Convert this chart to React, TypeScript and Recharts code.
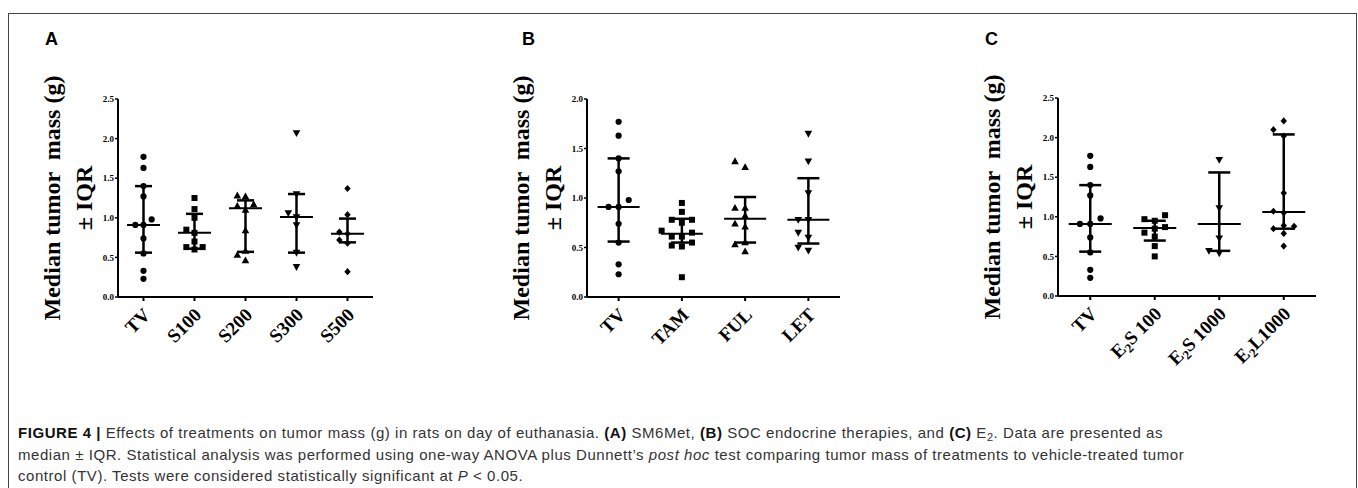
import React from 'react';
import { ScatterChart, Scatter, XAxis, YAxis, ErrorBar } from 'recharts';

// tumor mass (g) per animal
const tvMass = [1.77, 1.63, 1.4, 1.27, 0.98, 0.91, 0.91, 0.74, 0.55, 0.33, 0.23];

// panel A - SM6Met
const catsA = ['TV', 'S100', 'S200', 'S300', 'S500'];
const s100 = [1.25, 1.11, 1.0, 0.85, 0.81, 0.7, 0.63, 0.6, 0.63];
const s200 = [1.28, 1.27, 1.17, 1.15, 1.1, 0.84, 0.58, 0.53, 0.46];
const s300 = [2.07, 1.3, 1.06, 1.01, 0.91, 0.56, 0.38];
const s500 = [1.37, 1.04, 0.82, 0.8, 0.72, 0.68, 0.32];
const medA = [0.91, 0.81, 1.12, 1.01, 0.8];
const q1A = [0.56, 0.61, 0.57, 0.56, 0.69];
const q3A = [1.4, 1.05, 1.22, 1.3, 0.99];

// panel B - SOC endocrine therapies
const catsB = ['TV', 'TAM', 'FUL', 'LET'];
const tam = [0.95, 0.86, 0.78, 0.78, 0.75, 0.67, 0.65, 0.61, 0.61, 0.55, 0.52, 0.51, 0.2];
const ful = [1.37, 1.31, 0.9, 0.9, 0.82, 0.74, 0.71, 0.55, 0.53, 0.46];
const letr = [1.65, 1.37, 1.05, 0.78, 0.78, 0.65, 0.6, 0.5, 0.47];
const medB = [0.91, 0.64, 0.79, 0.78];
const q1B = [0.56, 0.55, 0.55, 0.54];
const q3B = [1.4, 0.79, 1.01, 1.2];

// panel C - E2
const catsC = ['TV', 'E2S 100', 'E2S 1000', 'E2L1000'];
const e2s100 = [1.02, 0.97, 0.95, 0.87, 0.85, 0.8, 0.75, 0.63, 0.5];
const e2s1000 = [1.72, 1.11, 0.73, 0.57, 0.54];
const e2l1000 = [2.21, 2.1, 2.02, 1.3, 1.07, 1.05, 0.89, 0.88, 0.85, 0.79, 0.63];
const medC = [0.91, 0.86, 0.91, 1.06];
const q1C = [0.56, 0.7, 0.57, 0.85];
const q3C = [1.4, 0.95, 1.56, 2.04];

const ticks25 = [0, 0.5, 1, 1.5, 2, 2.5];
const ticks20 = [0, 0.5, 1, 1.5, 2];

// simple beeswarm: spread near-equal values sideways like the prism plot
const swarm = (vals: number[], idx: number, thr: number, step: number) => {
  const placed: { y: number; lane: number }[] = [];
  const lanes = [0, -1, 1, -2, 2, -3, 3];
  return [...vals]
    .sort((a, b) => a - b)
    .map((v) => {
      const lane =
        lanes.find((l) => !placed.some((p) => p.lane === l && Math.abs(p.y - v) < thr)) ?? 0;
      placed.push({ y: v, lane });
      return { x: idx + lane * step, y: v };
    });
};

const markers: { [k: string]: (p: any) => React.ReactElement } = {
  circle: (p) => <circle cx={p.cx} cy={p.cy} r={3.1} fill="#000" />,
  square: (p) => <rect x={p.cx - 3} y={p.cy - 3} width={6} height={6} fill="#000" />,
  up: (p) => (
    <polygon
      points={`${p.cx},${p.cy - 4} ${p.cx - 3.8},${p.cy + 2.8} ${p.cx + 3.8},${p.cy + 2.8}`}
      fill="#000"
    />
  ),
  down: (p) => (
    <polygon
      points={`${p.cx},${p.cy + 4} ${p.cx - 3.8},${p.cy - 2.8} ${p.cx + 3.8},${p.cy - 2.8}`}
      fill="#000"
    />
  ),
  diamond: (p) => (
    <polygon
      points={`${p.cx},${p.cy - 3.6} ${p.cx + 3.2},${p.cy} ${p.cx},${p.cy + 3.6} ${p.cx - 3.2},${p.cy}`}
      fill="#000"
    />
  ),
};

const CatTick = (props: any) => {
  const { x, y, payload, cats } = props;
  const name: string = cats[payload.value] ?? '';
  const tx = x + 8;
  const ty = y + 13;
  const sub = name.startsWith('E2');
  return (
    <text
      x={tx}
      y={ty}
      transform={`rotate(-45, ${tx}, ${ty})`}
      textAnchor="end"
      fontFamily="Liberation Serif"
      fontWeight="bold"
      fontSize={19}
      fill="#000"
    >
      {sub ? (
        <>
          <tspan>E</tspan>
          <tspan dy={4} fontSize={13}>2</tspan>
          <tspan dy={-4}>{name.slice(2)}</tspan>
        </>
      ) : (
        name
      )}
    </text>
  );
};

const AxisTitle = (props: any) => {
  const { x, y, height } = props.viewBox;
  const cy = y + height / 2;
  const x1 = x + 34;
  const x2 = x + 66;
  return (
    <g fontFamily="Liberation Serif" fontWeight="bold" fontSize={24} fill="#000">
      <text
        x={x1}
        y={cy}
        transform={`rotate(-90, ${x1}, ${cy})`}
        textAnchor="middle"
        dominantBaseline="central"
        style={{ whiteSpace: 'pre' }}
      >
        Median tumor  mass (g)
      </text>
      <text
        x={x2}
        y={cy}
        transform={`rotate(-90, ${x2}, ${cy})`}
        textAnchor="middle"
        dominantBaseline="central"
      >
        ± IQR
      </text>
    </g>
  );
};

const Panel = (props: {
  left: number;
  top: number;
  width: number;
  cats: string[];
  groups: number[][];
  shapes: string[];
  med: number[];
  q1: number[];
  q3: number[];
  yMax: number;
  yTicks: number[];
  thr: number;
  medHalf: number;
  capHalf: number;
}) => {
  const { cats, med, q1, q3 } = props;
  const pts = props.groups.map((g, i) => swarm(g, i, props.thr, 0.16));
  const summary = cats.map((_, i) => ({ x: i, y: med[i], iqr: [med[i] - q1[i], q3[i] - med[i]] }));
  const medShape = (p: any) => (
    <line
      x1={p.cx - props.medHalf}
      x2={p.cx + props.medHalf}
      y1={p.cy}
      y2={p.cy}
      stroke="#000"
      strokeWidth={2}
    />
  );
  return (
    <div style={{ position: 'absolute', left: props.left, top: props.top }}>
      <ScatterChart
        width={props.width}
        height={300}
        margin={{ top: 14, right: 25, bottom: 0, left: 0 }}
      >
        <XAxis
          type="number"
          dataKey="x"
          domain={[-0.5, cats.length - 0.5]}
          ticks={cats.map((_, i) => i)}
          interval={0}
          height={88}
          tickSize={4}
          tickMargin={2}
          axisLine={{ stroke: '#000', strokeWidth: 2 }}
          tickLine={{ stroke: '#000', strokeWidth: 2 }}
          tick={<CatTick cats={cats} />}
        />
        <YAxis
          type="number"
          dataKey="y"
          domain={[0, props.yMax]}
          ticks={props.yTicks}
          width={100}
          tickSize={3}
          tickMargin={1}
          tickFormatter={(v: number) => v.toFixed(1)}
          axisLine={{ stroke: '#000', strokeWidth: 2 }}
          tickLine={{ stroke: '#000', strokeWidth: 1.5 }}
          tick={{ fontFamily: 'Liberation Serif', fontWeight: 'bold', fontSize: 9, fill: '#000' }}
          label={{ content: AxisTitle }}
        />
        <Scatter data={summary} shape={medShape} isAnimationActive={false}>
          <ErrorBar
            dataKey="iqr"
            direction="y"
            width={props.capHalf}
            stroke="#000"
            strokeWidth={2.5}
            isAnimationActive={false}
          />
        </Scatter>
        {pts.map((p, i) => (
          <Scatter
            key={cats[i]}
            data={p}
            fill="#000"
            shape={markers[props.shapes[i]]}
            isAnimationActive={false}
          />
        ))}
      </ScatterChart>
    </div>
  );
};

const letterStyle: React.CSSProperties = {
  position: 'absolute',
  top: 30,
  fontFamily: 'Liberation Sans',
  fontWeight: 'bold',
  fontSize: 18,
  lineHeight: '18px',
  color: '#000',
};

const subStyle: React.CSSProperties = {
  fontSize: 11,
  position: 'relative',
  top: 3,
  lineHeight: 0,
};

export default function App() {
  return (
    <div
      style={{
        position: 'absolute',
        left: 0,
        top: 0,
        width: 1358,
        height: 488,
        overflow: 'hidden',
        background: '#fff',
      }}
    >
      <style>{`.recharts-surface { overflow: visible; }`}</style>
      <div
        style={{
          position: 'absolute',
          left: 8,
          top: 13,
          width: 1347,
          height: 520,
          border: '1px solid #444',
        }}
      />
      <div style={{ ...letterStyle, left: 45 }}>A</div>
      <div style={{ ...letterStyle, left: 522 }}>B</div>
      <div style={{ ...letterStyle, left: 985 }}>C</div>
      <Panel
        left={18}
        top={85}
        width={380}
        cats={catsA}
        groups={[tvMass, s100, s200, s300, s500]}
        shapes={['circle', 'square', 'up', 'down', 'diamond']}
        med={medA}
        q1={q1A}
        q3={q3A}
        yMax={2.5}
        yTicks={ticks25}
        thr={0.09}
        medHalf={16.5}
        capHalf={8.5}
      />
      <Panel
        left={487}
        top={85}
        width={378}
        cats={catsB}
        groups={[tvMass, tam, ful, letr]}
        shapes={['circle', 'square', 'up', 'down']}
        med={medB}
        q1={q1B}
        q3={q3B}
        yMax={2}
        yTicks={ticks20}
        thr={0.075}
        medHalf={21}
        capHalf={11}
      />
      <Panel
        left={958}
        top={84}
        width={383}
        cats={catsC}
        groups={[tvMass, e2s100, e2s1000, e2l1000]}
        shapes={['circle', 'square', 'down', 'diamond']}
        med={medC}
        q1={q1C}
        q3={q3C}
        yMax={2.5}
        yTicks={ticks25}
        thr={0.09}
        medHalf={21.5}
        capHalf={11}
      />
      <div
        style={{
          position: 'absolute',
          left: 18,
          top: 422,
          width: 1330,
          fontFamily: 'Liberation Sans',
          fontSize: 15,
          letterSpacing: '0.55px',
          lineHeight: '21.5px',
          color: '#333',
          whiteSpace: 'nowrap',
        }}
      >
        <b style={{ color: '#111' }}>FIGURE 4 |</b> Effects of treatments on tumor mass (g) in rats on day of
        euthanasia. <b style={{ color: '#111' }}>(A)</b> SM6Met, <b style={{ color: '#111' }}>(B)</b> SOC endocrine
        therapies, and <b style={{ color: '#111' }}>(C)</b> E<span style={subStyle}>2</span>. Data are presented as
        <br />
        median ± IQR. Statistical analysis was performed using one-way ANOVA plus Dunnett’s <i>post hoc</i> test
        comparing tumor mass of treatments to vehicle-treated tumor
        <br />
        control (TV). Tests were considered statistically significant at <i>P</i> &lt; 0.05.
      </div>
    </div>
  );
}
